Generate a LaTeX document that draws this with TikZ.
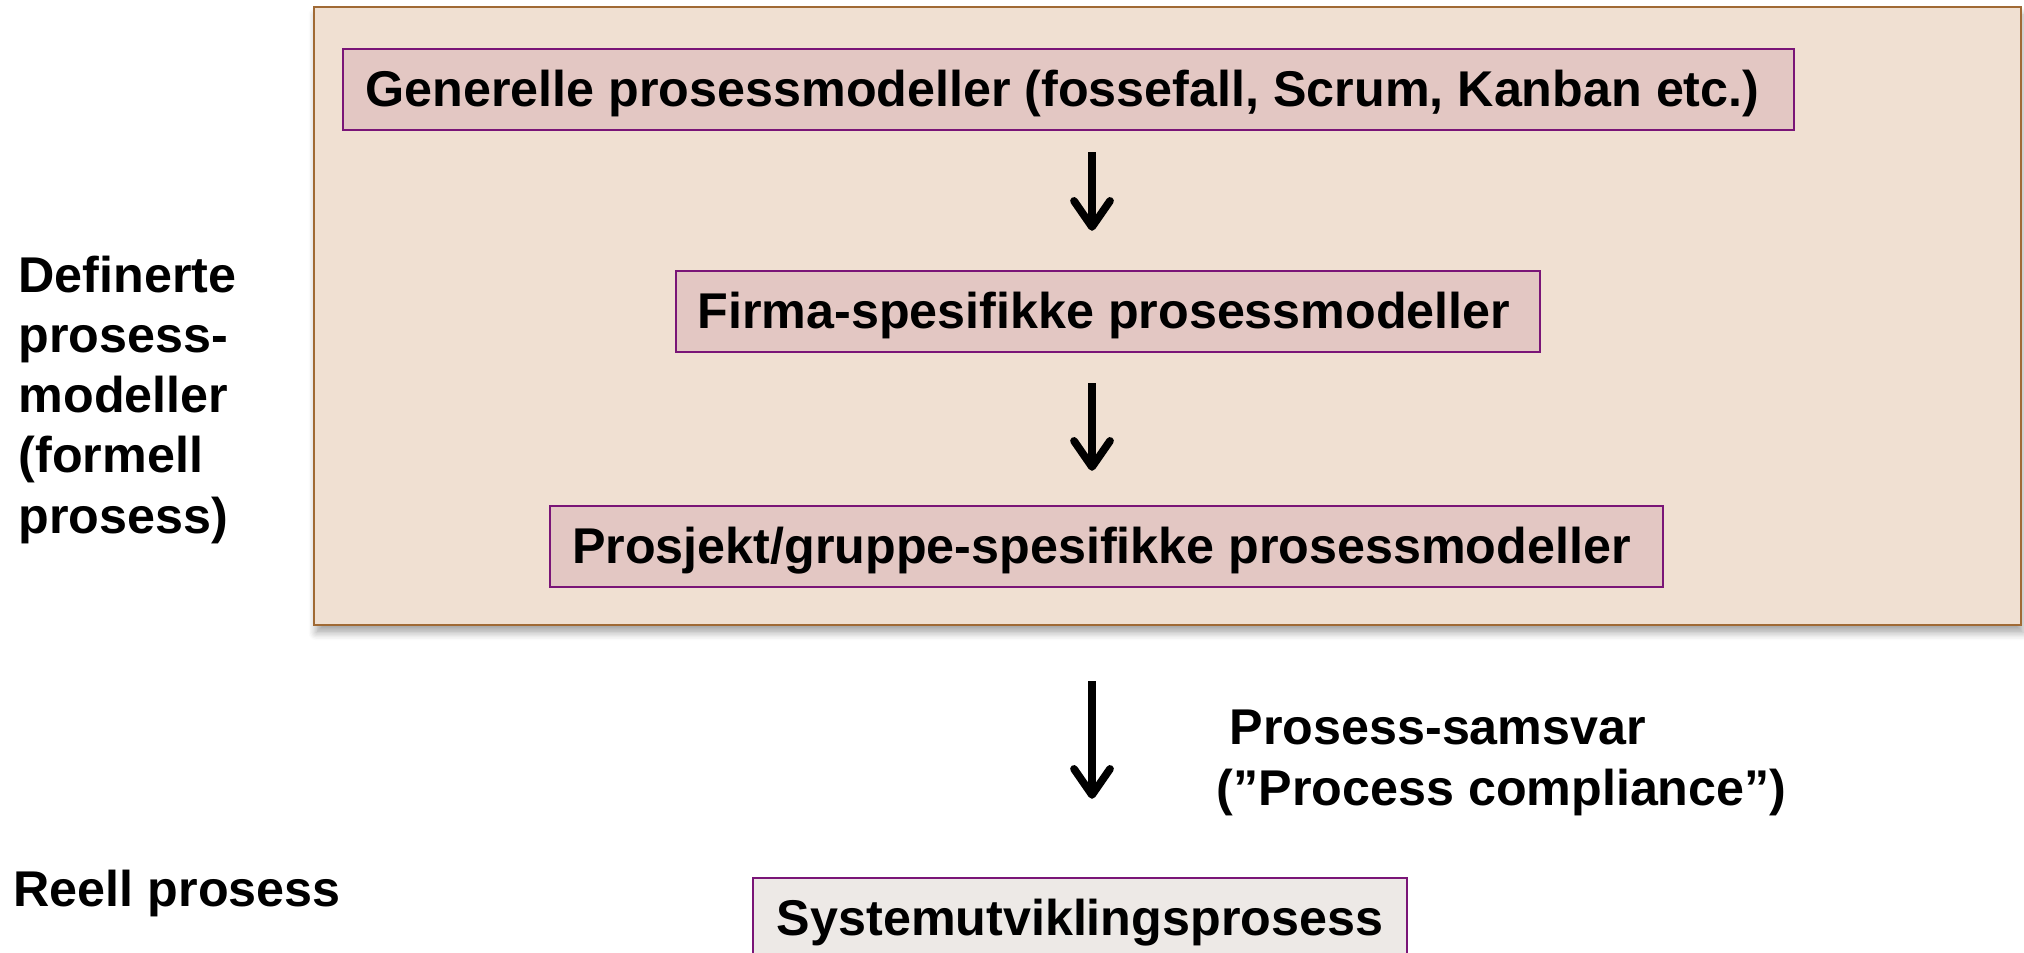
\documentclass[tikz,border=0pt]{standalone}
\usepackage{fontspec}
\setmainfont{Liberation Sans}
\usetikzlibrary{arrows.meta,shadows.blur}
\definecolor{framefill}{HTML}{F0E0D2}
\definecolor{framedraw}{HTML}{A06A35}
\definecolor{boxfill}{HTML}{E3C7C3}
\definecolor{boxdraw}{HTML}{7A1577}
\definecolor{realfill}{HTML}{EDE9E6}
\tikzset{
  lbl/.style={font=\fontsize{14.3pt}{17.1pt}\selectfont\bfseries, inner sep=0pt},
  frame/.style={draw=framedraw, fill=framefill, line width=0.7pt, inner sep=0pt,
    blur shadow={shadow xshift=0.6pt, shadow yshift=-2.2pt, shadow blur steps=6, shadow opacity=35}},
  modelbox/.style={lbl, draw=boxdraw, fill=boxfill, line width=0.7pt, minimum height=0.81cm,
    text height=0.44cm, text depth=0.10cm},
  realbox/.style={modelbox, fill=realfill},
  flow/.style={line width=2.2pt, black, -{Straight Barb[round,length=2.6mm,width=3.6mm]}}
}
\begin{document}
\begin{tikzpicture}
\useasboundingbox (0,0) rectangle (20.24,-9.52);
% frame around the defined process models
\node[frame, minimum width=17.07cm, minimum height=6.18cm] (frame) at (11.675,-3.16) {};
\node[modelbox, minimum width=14.51cm] (b1) at (10.685,-0.895) {Generelle prosessmodeller (fossefall, Scrum, Kanban etc.)\kern0.12cm};
\node[modelbox, minimum width=8.64cm] (b2) at (11.08,-3.115) {Firma-spesifikke prosessmodeller\kern0.08cm};
\node[modelbox, minimum width=11.13cm] (b3) at (11.065,-5.465) {Prosjekt/gruppe-spesifikke prosessmodeller\kern0.1cm};
\node[realbox, minimum width=6.54cm] (b4) at (10.80,-9.185) {Systemutviklingsprosess};
% side labels (base anchor sits on the last line)
\node[lbl, align=left, anchor=base west] (defl) at (0.18,-5.33) {Definerte\\prosess-\\modeller\\(formell\\prosess)};
\node[lbl, anchor=base west] (reell) at (0.13,-9.06) {Reell prosess};
\node[lbl, align=left, anchor=base west] (compl) at (12.16,-8.05) {\hspace{0.13cm}Prosess-samsvar\\(”Process compliance”)};
% arrows
\coordinate (ax) at (10.92,0);
\draw[flow, shorten <=0.21cm, shorten >=0.39cm] (b1.south -| ax) -- (b2.north -| ax);
\draw[flow, shorten <=0.30cm, shorten >=0.34cm] (b2.south -| ax) -- (b3.north -| ax);
\draw[flow, shorten <=0.55cm, shorten >=0.78cm] (frame.south -| ax) -- (b4.north -| ax);
\end{tikzpicture}
\end{document}
